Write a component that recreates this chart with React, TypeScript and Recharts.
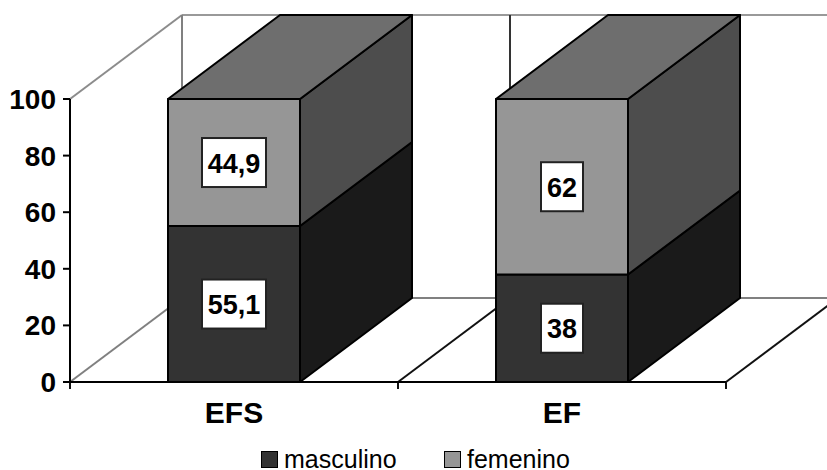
// App.tsx - stacked columns with a drawn 3D box look
import { BarChart, Bar, XAxis, YAxis, Legend, LabelList, usePlotArea } from "recharts";

const categories = ["EFS", "EF"];
const masculino = [55.1, 38];
const femenino = [44.9, 62];
const yTicks = [0, 20, 40, 60, 80, 100];

const data = categories.map((name, i) => ({
    name,
    masculino: masculino[i],
    femenino: femenino[i],
}));

const FONT = '"Liberation Sans", Arial, sans-serif';
const DEPTH_X = 112;
const DEPTH_Y = 84;

const FILL_MALE = "#333333";
const FILL_FEMALE = "#969696";
const SIDE_MALE = "#1a1a1a";
const SIDE_FEMALE = "#4d4d4d";
const TOP_FEMALE = "#6e6e6e";

// Back walls and floor, plus the tick marks between categories
function Walls() {
    const plot = usePlotArea();
    if (!plot) return null;
    const left = plot.x;
    const bottom = plot.y + plot.height;
    const top = plot.y;
    const step = plot.width / categories.length;
    const edges = [0, 1, 2].map((i) => left + i * step);
    const line = (x1: number, y1: number, x2: number, y2: number, stroke: string, key: string) => (
        <line key={key} x1={x1} y1={y1} x2={x2} y2={y2} stroke={stroke} strokeWidth={2} />
    );
    return (
        <g>
            {line(left, top, left + DEPTH_X, top - DEPTH_Y, "#8c8c8c", "wall-top")}
            {line(left + DEPTH_X, top - DEPTH_Y, 827, top - DEPTH_Y, "#999999", "back-top")}
            {line(left + DEPTH_X, top - DEPTH_Y, left + DEPTH_X, bottom - DEPTH_Y, "#808080", "back-left")}
            {line(left + DEPTH_X, bottom - DEPTH_Y, 827, bottom - DEPTH_Y, "#808080", "back-bottom")}
            {line(left, bottom, left + DEPTH_X, bottom - DEPTH_Y, "#808080", "floor-left")}
            {line(edges[1] + DEPTH_X, top - DEPTH_Y, edges[1] + DEPTH_X, bottom - DEPTH_Y, "#333333", "back-mid")}
            {line(edges[1], bottom, edges[1] + DEPTH_X, bottom - DEPTH_Y, "#111111", "floor-mid")}
            {line(edges[2], bottom, edges[2] + DEPTH_X, bottom - DEPTH_Y, "#111111", "floor-right")}
            {edges.map((x, i) => line(x, bottom, x, bottom + 7, "#111111", `tick-${i}`))}
        </g>
    );
}

function Box({ x, y, width, height, front, side, top }: any) {
    const right = x + width;
    const bottom = y + height;
    return (
        <g stroke="#000" strokeWidth={2} strokeLinejoin="round">
            <polygon
                points={`${right},${y} ${right + DEPTH_X},${y - DEPTH_Y} ${right + DEPTH_X},${bottom - DEPTH_Y} ${right},${bottom}`}
                fill={side}
            />
            {top && (
                <polygon
                    points={`${x},${y} ${x + DEPTH_X},${y - DEPTH_Y} ${right + DEPTH_X},${y - DEPTH_Y} ${right},${y}`}
                    fill={top}
                />
            )}
            <rect x={x} y={y} width={width} height={height} fill={front} />
        </g>
    );
}

// White value box centred on the front face
function ValueLabel({ x, y, width, height, value }: any) {
    const text = String(value).replace(".", ",");
    const w = text.length > 2 ? 64 : 42;
    const h = 49;
    const cx = x + width / 2;
    const cy = y + height / 2;
    return (
        <g>
            <rect x={cx - w / 2} y={cy - h / 2} width={w} height={h} fill="#fff" stroke="#222" strokeWidth={2} />
            <text x={cx} y={cy + 10} textAnchor="middle" fontFamily={FONT} fontWeight={700} fontSize={27} fill="#000">
                {text}
            </text>
        </g>
    );
}

function LegendRow({ payload }: any) {
    return (
        <div style={{ display: "flex", fontFamily: FONT, fontSize: 25, lineHeight: "20px", height: 20, color: "#000" }}>
            {(payload || []).map((item: any) => (
                <div key={item.value} style={{ width: 183, display: "flex", alignItems: "center" }}>
                    <span
                        style={{
                            width: 15,
                            height: 15,
                            marginRight: 6,
                            background: item.color,
                            border: "1px solid #000",
                            display: "inline-block",
                        }}
                    />
                    {item.value}
                </div>
            ))}
        </div>
    );
}

export default function App() {
    return (
        <div style={{ position: "absolute", left: 0, top: 0 }}>
            <BarChart
                width={827}
                height={470}
                data={data}
                margin={{ top: 99, right: 101, bottom: 28, left: 0 }}
                barSize={132}
            >
                <Walls />
                <XAxis
                    dataKey="name"
                    height={40}
                    tickLine={false}
                    axisLine={{ stroke: "#000", strokeWidth: 2 }}
                    tickMargin={14}
                    tick={{ fontFamily: FONT, fontWeight: 700, fontSize: 30, fill: "#000" }}
                />
                <YAxis
                    width={70}
                    domain={[0, 100]}
                    ticks={yTicks}
                    tickSize={7}
                    tickMargin={7}
                    axisLine={{ stroke: "#000", strokeWidth: 2 }}
                    tickLine={{ stroke: "#000", strokeWidth: 2 }}
                    tick={{ fontFamily: FONT, fontWeight: 700, fontSize: 28, fill: "#000" }}
                />
                <Legend
                    content={<LegendRow />}
                    itemSorter={null}
                    wrapperStyle={{ left: 261, top: 449, width: 400, bottom: "auto" }}
                />
                <Bar
                    dataKey="masculino"
                    name="masculino"
                    stackId="a"
                    fill={FILL_MALE}
                    isAnimationActive={false}
                    shape={(p: any) => <Box {...p} front={FILL_MALE} side={SIDE_MALE} />}
                >
                    <LabelList dataKey="masculino" content={<ValueLabel />} />
                </Bar>
                <Bar
                    dataKey="femenino"
                    name="femenino"
                    stackId="a"
                    fill={FILL_FEMALE}
                    isAnimationActive={false}
                    shape={(p: any) => <Box {...p} front={FILL_FEMALE} side={SIDE_FEMALE} top={TOP_FEMALE} />}
                >
                    <LabelList dataKey="femenino" content={<ValueLabel />} />
                </Bar>
            </BarChart>
        </div>
    );
}
